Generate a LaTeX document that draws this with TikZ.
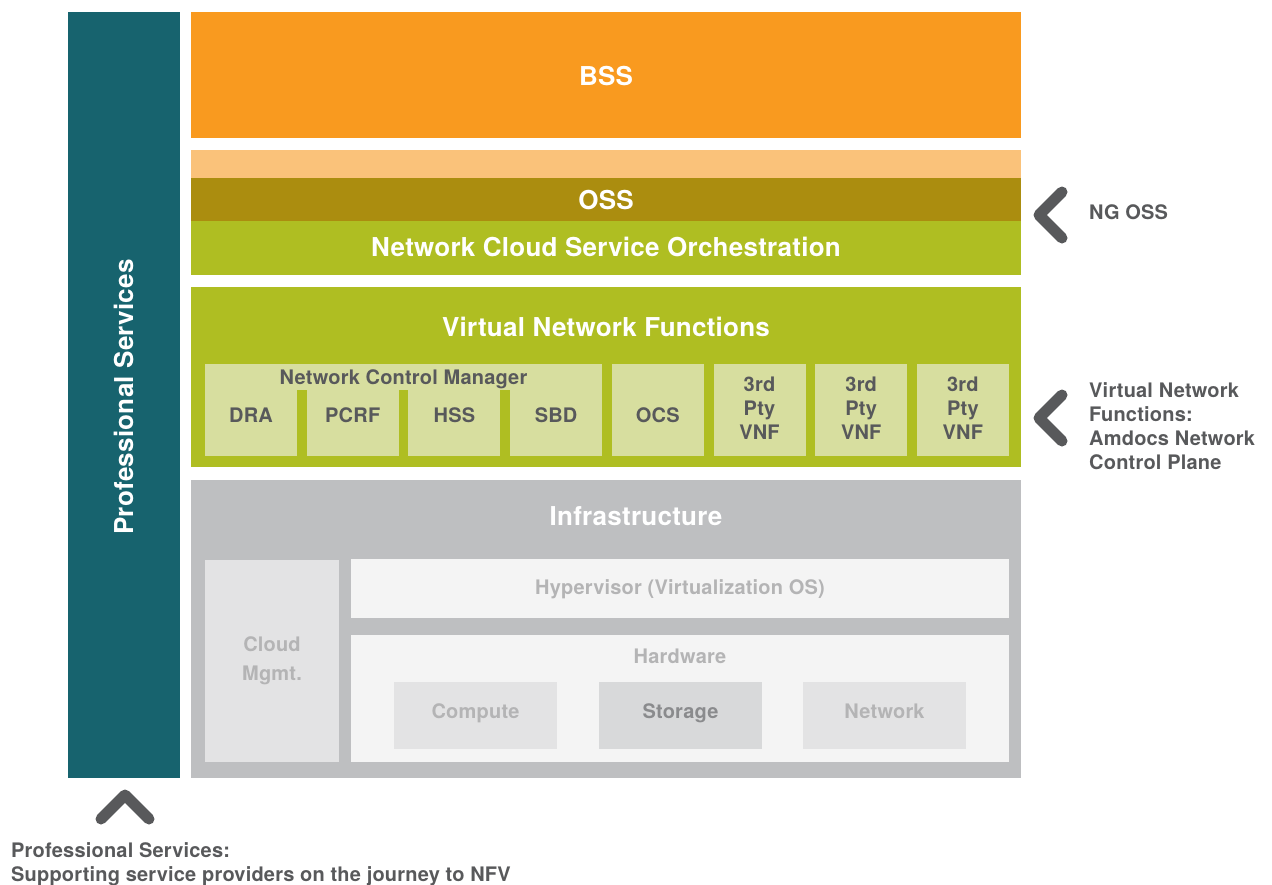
\documentclass[tikz,border=0pt]{standalone}
\usepackage{fontspec}
\setmainfont[LetterSpace=1]{TeX Gyre Heros}
\definecolor{teal}{HTML}{17636E}
\definecolor{bssorange}{HTML}{F99A1F}
\definecolor{lightorange}{HTML}{FAC27A}
\definecolor{ossgold}{HTML}{AB8D0F}
\definecolor{vnfgreen}{HTML}{AFBE22}
\definecolor{palegreen}{HTML}{D7DE9F}
\definecolor{dgray}{HTML}{58595B}
\definecolor{infragray}{HTML}{BEBFC1}
\definecolor{boxgray}{HTML}{E3E3E4}
\definecolor{boxlight}{HTML}{F4F4F4}
\definecolor{storagegray}{HTML}{D8D9DA}
\definecolor{ltext}{HTML}{B4B4B5}
\definecolor{stext}{HTML}{8A8B8D}
\begin{document}
\begin{tikzpicture}[x=1pt,y=-1pt,
  blk/.style={rectangle, draw=none, inner sep=0pt, outer sep=0pt, anchor=north west},
  ttl/.style={font=\fontsize{26}{31}\selectfont\bfseries, text=white, inner sep=0pt, text height=18.7pt, text depth=0pt},
  lbl/.style={font=\fontsize{20}{24}\selectfont\bfseries, text=dgray, inner sep=0pt, text height=14.4pt, text depth=0pt},
  mlbl/.style={font=\fontsize{20}{24}\selectfont\bfseries, text=dgray, inner sep=0pt, align=center, anchor=north},
  side/.style={font=\fontsize{20}{24}\selectfont\bfseries, text=dgray, inner sep=0pt, align=left},
  chev/.style={draw=dgray, line width=11pt, line cap=round, line join=round}
]
\useasboundingbox (0,0) rectangle (1272,884);

% Professional services bar
\node[blk, fill=teal, minimum width=112, minimum height=766] (ps) at (68,12) {};
\node[ttl, rotate=90] (pst) at (124,397) {Professional Services};

% BSS
\node[blk, fill=bssorange, minimum width=830, minimum height=126] (bss) at (191,12) {};
\node[ttl] (bsst) at (606,76) {BSS};

% OSS stack
\node[blk, fill=lightorange, minimum width=830, minimum height=28] (lo) at (191,150) {};
\node[blk, fill=ossgold, minimum width=830, minimum height=43] (oss) at (191,178) {};
\node[ttl] (osst) at (606,200) {OSS};
\node[blk, fill=vnfgreen, minimum width=830, minimum height=54] (ncso) at (191,221) {};
\node[ttl] (ncsot) at (606,247) {Network Cloud Service Orchestration};

% VNF block
\node[blk, fill=vnfgreen, minimum width=830, minimum height=180] (vnf) at (191,287) {};
\node[ttl] (vnft) at (606,327) {Virtual Network Functions};

\node[blk, fill=palegreen, minimum width=92, minimum height=92] (dra) at (205,364) {};
\node[blk, fill=palegreen, minimum width=92, minimum height=92] (pcrf) at (306.7,364) {};
\node[blk, fill=palegreen, minimum width=92, minimum height=92] (hss) at (408.4,364) {};
\node[blk, fill=palegreen, minimum width=92, minimum height=92] (sbd) at (510.1,364) {};
\node[blk, fill=palegreen, minimum width=92, minimum height=92] (ocs) at (611.8,364) {};
\node[blk, fill=palegreen, minimum width=92, minimum height=92] (p1) at (713.5,364) {};
\node[blk, fill=palegreen, minimum width=92, minimum height=92] (p2) at (815.2,364) {};
\node[blk, fill=palegreen, minimum width=92, minimum height=92] (p3) at (916.9,364) {};
\node[blk, fill=palegreen, minimum width=397, minimum height=26] (ncm) at (205,364) {};
\node[lbl] (ncmt) at (403.5,377) {Network Control Manager};

\node[lbl] (drat) at (251,415) {DRA};
\node[lbl] (pcrft) at (352.7,415) {PCRF};
\node[lbl] (hsst) at (454.4,415) {HSS};
\node[lbl] (sbdt) at (556.1,415) {SBD};
\node[lbl] (ocst) at (657.8,415) {OCS};
\node[mlbl] (p1t) at (759.5,377) {3rd\\Pty\\VNF};
\node[mlbl] (p2t) at (861.2,377) {3rd\\Pty\\VNF};
\node[mlbl] (p3t) at (962.9,377) {3rd\\Pty\\VNF};

% Infrastructure
\node[blk, fill=infragray, minimum width=830, minimum height=298] (inf) at (191,480) {};
\node[ttl] (inft) at (636,516) {Infrastructure};
\node[blk, fill=boxgray, minimum width=134, minimum height=202] (cm) at (205,560) {};
\node[mlbl, text=ltext, font=\fontsize{20}{29}\selectfont\bfseries] (cmt) at (272,636) {Cloud\\Mgmt.};
\node[blk, fill=boxlight, minimum width=658, minimum height=59] (hyp) at (351,559) {};
\node[lbl, text=ltext] (hypt) at (680,587) {Hypervisor (Virtualization OS)};
\node[blk, fill=boxlight, minimum width=658, minimum height=127] (hw) at (351,635) {};
\node[lbl, text=ltext] (hwt) at (680,656) {Hardware};
\node[blk, fill=boxgray, minimum width=163, minimum height=67] (cmp) at (394,682) {};
\node[lbl, text=ltext] (cmpt) at (475.5,711) {Compute};
\node[blk, fill=storagegray, minimum width=163, minimum height=67] (sto) at (599,682) {};
\node[lbl, text=stext] (stot) at (680.5,711) {Storage};
\node[blk, fill=boxgray, minimum width=163, minimum height=67] (net) at (803,682) {};
\node[lbl, text=ltext] (nett) at (884.5,711) {Network};

% Side annotations
\draw[chev] (1062,192) -- (1039,215) -- (1062,238);
\node[lbl, anchor=west] (ngoss) at (1089,212) {NG OSS};
\draw[chev] (1062,395) -- (1039,418) -- (1062,441);
\node[side, anchor=north west] (vnfside) at (1089,382) {Virtual Network\\Functions:\\Amdocs Network\\Control Plane};

\draw[chev] (101,819) -- (125,795) -- (149,819);
\node[side, anchor=north west] (pss) at (11,842) {Professional Services:\\Supporting service providers on the journey to NFV};
\end{tikzpicture}
\end{document}
